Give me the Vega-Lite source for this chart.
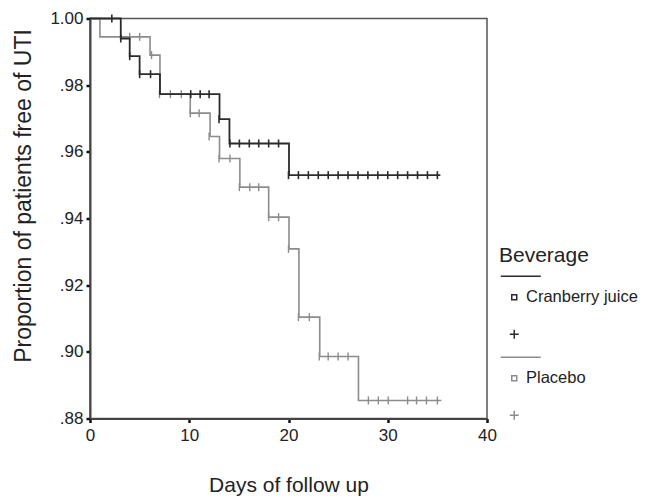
{
  "$schema": "https://vega.github.io/schema/vega-lite/v6.json",
  "autosize": {"type": "none"},
  "padding": {"left": 90, "top": 18.5, "right": 158, "bottom": 80.5},
  "width": 397,
  "height": 400,
  "background": "white",
  "config": {
    "font": "Liberation Sans",
    "view": {"stroke": "#555555", "strokeWidth": 1.5},
    "axis": {"grid": false, "domainColor": "#444444", "domainWidth": 2, "tickColor": "#111111", "tickWidth": 2.5, "tickSize": 4, "labelColor": "#222222", "titleColor": "#222222", "labelFontSize": 17, "titleFontWeight": "normal"}
  },
  "datasets": {
    "steps": [
      {"day": 0, "surv": 1.0, "grp": "Placebo"},
      {"day": 1.0, "surv": 0.9945, "grp": "Placebo"},
      {"day": 6.05, "surv": 0.989, "grp": "Placebo"},
      {"day": 7.05, "surv": 0.9773, "grp": "Placebo"},
      {"day": 10.1, "surv": 0.9716, "grp": "Placebo"},
      {"day": 12.1, "surv": 0.9646, "grp": "Placebo"},
      {"day": 13.05, "surv": 0.958, "grp": "Placebo"},
      {"day": 15.1, "surv": 0.9494, "grp": "Placebo"},
      {"day": 18.0, "surv": 0.9404, "grp": "Placebo"},
      {"day": 20.05, "surv": 0.9309, "grp": "Placebo"},
      {"day": 21.05, "surv": 0.9104, "grp": "Placebo"},
      {"day": 23.15, "surv": 0.8986, "grp": "Placebo"},
      {"day": 27.05, "surv": 0.8854, "grp": "Placebo"},
      {"day": 35.4, "surv": 0.8854, "grp": "Placebo"},
      {"day": 0, "surv": 1.0, "grp": "Cranberry juice"},
      {"day": 3.1, "surv": 0.994, "grp": "Cranberry juice"},
      {"day": 4.0, "surv": 0.9887, "grp": "Cranberry juice"},
      {"day": 5.0, "surv": 0.9833, "grp": "Cranberry juice"},
      {"day": 7.05, "surv": 0.9773, "grp": "Cranberry juice"},
      {"day": 13.05, "surv": 0.9698, "grp": "Cranberry juice"},
      {"day": 14.05, "surv": 0.9625, "grp": "Cranberry juice"},
      {"day": 20.05, "surv": 0.953, "grp": "Cranberry juice"},
      {"day": 35.3, "surv": 0.953, "grp": "Cranberry juice"}
    ],
    "censored": [
      {"day": 4.0, "surv": 0.9945, "grp": "Placebo"},
      {"day": 5.0, "surv": 0.9945, "grp": "Placebo"},
      {"day": 6.2, "surv": 0.989, "grp": "Placebo"},
      {"day": 7.0, "surv": 0.9773, "grp": "Placebo"},
      {"day": 8.1, "surv": 0.9773, "grp": "Placebo"},
      {"day": 9.2, "surv": 0.9773, "grp": "Placebo"},
      {"day": 10.1, "surv": 0.9716, "grp": "Placebo"},
      {"day": 11.0, "surv": 0.9716, "grp": "Placebo"},
      {"day": 12.0, "surv": 0.9646, "grp": "Placebo"},
      {"day": 13.0, "surv": 0.958, "grp": "Placebo"},
      {"day": 14.1, "surv": 0.958, "grp": "Placebo"},
      {"day": 15.05, "surv": 0.9494, "grp": "Placebo"},
      {"day": 16.1, "surv": 0.9494, "grp": "Placebo"},
      {"day": 17.0, "surv": 0.9494, "grp": "Placebo"},
      {"day": 18.0, "surv": 0.9404, "grp": "Placebo"},
      {"day": 19.0, "surv": 0.9404, "grp": "Placebo"},
      {"day": 20.0, "surv": 0.9309, "grp": "Placebo"},
      {"day": 21.0, "surv": 0.9104, "grp": "Placebo"},
      {"day": 22.1, "surv": 0.9104, "grp": "Placebo"},
      {"day": 23.1, "surv": 0.8986, "grp": "Placebo"},
      {"day": 24.0, "surv": 0.8986, "grp": "Placebo"},
      {"day": 25.0, "surv": 0.8986, "grp": "Placebo"},
      {"day": 26.0, "surv": 0.8986, "grp": "Placebo"},
      {"day": 28.05, "surv": 0.8854, "grp": "Placebo"},
      {"day": 29.05, "surv": 0.8854, "grp": "Placebo"},
      {"day": 30.05, "surv": 0.8854, "grp": "Placebo"},
      {"day": 32.0, "surv": 0.8854, "grp": "Placebo"},
      {"day": 32.9, "surv": 0.8854, "grp": "Placebo"},
      {"day": 33.9, "surv": 0.8854, "grp": "Placebo"},
      {"day": 35.0, "surv": 0.8854, "grp": "Placebo"},
      {"day": 2.2, "surv": 1.0, "grp": "Cranberry juice"},
      {"day": 3.1, "surv": 0.994, "grp": "Cranberry juice"},
      {"day": 4.0, "surv": 0.9887, "grp": "Cranberry juice"},
      {"day": 5.0, "surv": 0.9833, "grp": "Cranberry juice"},
      {"day": 6.1, "surv": 0.9833, "grp": "Cranberry juice"},
      {"day": 10.15, "surv": 0.9773, "grp": "Cranberry juice"},
      {"day": 11.1, "surv": 0.9773, "grp": "Cranberry juice"},
      {"day": 12.0, "surv": 0.9773, "grp": "Cranberry juice"},
      {"day": 13.0, "surv": 0.9698, "grp": "Cranberry juice"},
      {"day": 14.1, "surv": 0.9625, "grp": "Cranberry juice"},
      {"day": 15.05, "surv": 0.9625, "grp": "Cranberry juice"},
      {"day": 16.05, "surv": 0.9625, "grp": "Cranberry juice"},
      {"day": 17.0, "surv": 0.9625, "grp": "Cranberry juice"},
      {"day": 18.0, "surv": 0.9625, "grp": "Cranberry juice"},
      {"day": 19.0, "surv": 0.9625, "grp": "Cranberry juice"},
      {"day": 20.0, "surv": 0.953, "grp": "Cranberry juice"},
      {"day": 21.0, "surv": 0.953, "grp": "Cranberry juice"},
      {"day": 22.0, "surv": 0.953, "grp": "Cranberry juice"},
      {"day": 23.0, "surv": 0.953, "grp": "Cranberry juice"},
      {"day": 24.0, "surv": 0.953, "grp": "Cranberry juice"},
      {"day": 25.0, "surv": 0.953, "grp": "Cranberry juice"},
      {"day": 26.0, "surv": 0.953, "grp": "Cranberry juice"},
      {"day": 27.0, "surv": 0.953, "grp": "Cranberry juice"},
      {"day": 28.0, "surv": 0.953, "grp": "Cranberry juice"},
      {"day": 29.0, "surv": 0.953, "grp": "Cranberry juice"},
      {"day": 30.0, "surv": 0.953, "grp": "Cranberry juice"},
      {"day": 31.0, "surv": 0.953, "grp": "Cranberry juice"},
      {"day": 32.0, "surv": 0.953, "grp": "Cranberry juice"},
      {"day": 33.0, "surv": 0.953, "grp": "Cranberry juice"},
      {"day": 34.0, "surv": 0.953, "grp": "Cranberry juice"},
      {"day": 35.0, "surv": 0.953, "grp": "Cranberry juice"}
    ]
  },
  "encoding": {
    "x": {"field": "day", "type": "quantitative", "scale": {"domain": [0, 40], "nice": false, "zero": false},
      "axis": {"values": [0, 10, 20, 30, 40], "title": "Days of follow up", "titleFontSize": 21, "titlePadding": 31, "labelPadding": 5, "labelFlush": false}},
    "y": {"field": "surv", "type": "quantitative", "scale": {"domain": [0.88, 1.0], "nice": false, "zero": false},
      "axis": {"values": [0.88, 0.9, 0.92, 0.94, 0.96, 0.98, 1.0], "labelExpr": "datum.value >= 0.999 ? '1.00' : substring(format(datum.value, '.2f'), 1)", "labelPadding": 3, "labelFlush": false, "title": "Proportion of patients free of UTI", "titleFontSize": 23, "titlePadding": 14, "titleY": 177}},
    "color": {"field": "grp", "type": "nominal", "scale": {"domain": ["Cranberry juice", "Placebo"], "range": ["#2b2b2b", "#8c8c8c"]},
      "legend": {"orient": "none", "legendX": 409, "legendY": 226.5, "title": "Beverage", "titleFontSize": 21, "titleFontWeight": "normal", "titleColor": "#222222", "titlePadding": 23, "labelFontSize": 16.5, "labelColor": "#222222", "labelLimit": 300, "labelOffset": 3.5, "symbolOffset": 7, "symbolType": "M-2.7,-4.2H5.3M-0.5,-0.5H0.5V0.5H-0.5ZM0,6.5V8.3M-0.9,7.4H0.9", "symbolSize": 100, "symbolStrokeWidth": 1.5, "symbolFillColor": "transparent", "rowPadding": 12, "padding": 0}}
  },
  "layer": [
    {"data": {"name": "steps"}, "transform": [{"filter": "datum.grp === 'Placebo'"}], "mark": {"type": "line", "interpolate": "step-after", "strokeWidth": 1.6}},
    {"data": {"name": "censored"}, "transform": [{"filter": "datum.grp === 'Placebo'"}], "mark": {"type": "point", "shape": "M0,-1V1", "size": 64, "strokeWidth": 1.4, "filled": false, "opacity": 1}},
    {"data": {"name": "steps"}, "transform": [{"filter": "datum.grp === 'Cranberry juice'"}], "mark": {"type": "line", "interpolate": "step-after", "strokeWidth": 1.8}},
    {"data": {"name": "censored"}, "transform": [{"filter": "datum.grp === 'Cranberry juice'"}], "mark": {"type": "point", "shape": "M0,-1V1", "size": 64, "strokeWidth": 1.6, "filled": false, "opacity": 1}}
  ]
}
